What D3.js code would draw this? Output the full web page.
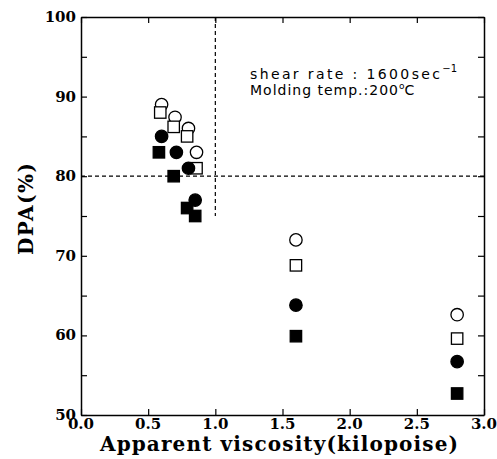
<!DOCTYPE html>
<html>
<head>
<meta charset="utf-8">
<script src="https://cdn.jsdelivr.net/npm/d3@7"></script>
<style>
  body { margin: 0; background: #fff; }
</style>
</head>
<body>
<div id="chart"></div>
<script>
// values
var xOpenCircle = [0.60, 0.70, 0.80, 0.86, 1.60, 2.80];
var yOpenCircle = [89.0, 87.4, 86.0, 83.0, 72.0, 62.6];
var xOpenSquare = [0.59, 0.69, 0.79, 0.86, 1.60, 2.80];
var yOpenSquare = [88.0, 86.2, 85.0, 81.0, 68.8, 59.6];
var xFillCircle = [0.60, 0.71, 0.80, 0.85, 1.60, 2.80];
var yFillCircle = [85.0, 83.0, 81.0, 77.0, 63.8, 56.7];
var xFillSquare = [0.58, 0.69, 0.79, 0.85, 1.60, 2.80];
var yFillSquare = [83.0, 80.0, 76.0, 75.0, 59.9, 52.7];

var xTicks = [0, 0.5, 1.0, 1.5, 2.0, 2.5, 3.0];
var yTicks = [50, 60, 70, 80, 90, 100];
var yMinor = [55, 65, 75, 85, 95];

var series = [
    { xs: xOpenCircle, ys: yOpenCircle, shape: "circle", filled: false },
    { xs: xOpenSquare, ys: yOpenSquare, shape: "square", filled: false },
    { xs: xFillCircle, ys: yFillCircle, shape: "circle", filled: true },
    { xs: xFillSquare, ys: yFillSquare, shape: "square", filled: true }
];

var W = 497, H = 459;
// plot box (note: "top" is reserved on window, so use px* names)
var pxL = 81, pxR = 484, pxT = 17, pxB = 415;

var svg = d3.select("#chart").append("svg")
    .attr("width", W).attr("height", H);

var x = d3.scaleLinear().domain([0, 3]).range([pxL, pxR]);
var y = d3.scaleLinear().domain([50, 100]).range([pxB, pxT]);

var serif = "'DejaVu Serif', 'Liberation Serif', serif";
var sans = "'DejaVu Sans', 'Liberation Sans', sans-serif";

// frame axes, ticks pointing inward
svg.append("g").attr("transform", `translate(0,${pxB})`)
    .call(d3.axisTop(x).tickValues(xTicks).tickSize(6).tickSizeOuter(0).tickFormat(""));
svg.append("g").attr("transform", `translate(0,${pxT})`)
    .call(d3.axisBottom(x).tickValues(xTicks).tickSize(6).tickSizeOuter(0).tickFormat(""));
svg.append("g").attr("transform", `translate(${pxL},0)`)
    .call(d3.axisRight(y).tickValues(yTicks.concat(yMinor)).tickSize(6).tickSizeOuter(0).tickFormat(""));
svg.append("g").attr("transform", `translate(${pxR},0)`)
    .call(d3.axisLeft(y).tickValues(yTicks.concat(yMinor)).tickSize(6).tickSizeOuter(0).tickFormat(""));

svg.selectAll(".domain").attr("stroke", "#000").attr("stroke-width", 1.5);
svg.selectAll(".tick line").attr("stroke", "#000").attr("stroke-width", 1.2);

// tick labels
svg.selectAll(".xlab").data(xTicks).enter().append("text")
    .attr("x", d => x(d)).attr("y", pxB + 14)
    .attr("text-anchor", "middle")
    .attr("font-family", serif).attr("font-weight", "bold").attr("font-size", 15)
    .text(d => d.toFixed(1));
svg.selectAll(".ylab").data(yTicks).enter().append("text")
    .attr("x", pxL - 5).attr("y", d => y(d) + 5)
    .attr("text-anchor", "end")
    .attr("font-family", serif).attr("font-weight", "bold").attr("font-size", 15)
    .text(d => d);

// axis titles
svg.append("text")
    .attr("x", 100).attr("y", 451)
    .attr("font-family", serif).attr("font-weight", "bold").attr("font-size", 20)
    .attr("textLength", 358).attr("lengthAdjust", "spacing")
    .text("Apparent viscosity(kilopoise)");
svg.append("text")
    .attr("transform", "translate(33,209) rotate(-90)")
    .attr("text-anchor", "middle")
    .attr("font-family", serif).attr("font-weight", "bold").attr("font-size", 20)
    .attr("textLength", 92).attr("lengthAdjust", "spacing")
    .text("DPA(%)");

// dashed guide lines
svg.append("line")
    .attr("x1", x(0)).attr("x2", x(3)).attr("y1", y(80)).attr("y2", y(80))
    .attr("stroke", "#000").attr("stroke-width", 1.2).attr("stroke-dasharray", "4,3");
svg.append("line")
    .attr("x1", x(1)).attr("x2", x(1)).attr("y1", y(100)).attr("y2", y(75))
    .attr("stroke", "#000").attr("stroke-width", 1.2).attr("stroke-dasharray", "4,3");

// annotation
var note = svg.append("g").attr("font-family", sans).attr("font-size", 14);
var t1 = note.append("text").attr("x", 250).attr("y", 79);
t1.append("tspan").attr("textLength", 190).attr("lengthAdjust", "spacing").text("shear rate : 1600sec");
t1.append("tspan").attr("dy", -7).attr("font-size", 10).text("\u22121");
var t2 = note.append("text").attr("x", 250).attr("y", 95);
t2.append("tspan").attr("textLength", 148).attr("lengthAdjust", "spacing").text("Molding temp.:200");
t2.append("tspan").attr("dy", -6).attr("font-size", 9).text("o");
t2.append("tspan").attr("dy", 6).text("C");

// markers
series.forEach(s => {
    var pts = s.xs.map((v, i) => ({ x: v, y: s.ys[i] }));
    var g = svg.append("g");
    if (s.shape === "circle") {
        g.selectAll("circle").data(pts).enter().append("circle")
            .attr("cx", d => x(d.x)).attr("cy", d => y(d.y)).attr("r", 6.2)
            .attr("fill", s.filled ? "#000" : "#fff")
            .attr("stroke", "#000").attr("stroke-width", 1.3);
    } else {
        g.selectAll("rect").data(pts).enter().append("rect")
            .attr("x", d => x(d.x) - 5.7).attr("y", d => y(d.y) - 5.7)
            .attr("width", 11.4).attr("height", 11.4)
            .attr("fill", s.filled ? "#000" : "#fff")
            .attr("stroke", "#000").attr("stroke-width", 1.3);
    }
});
</script>
</body>
</html>
